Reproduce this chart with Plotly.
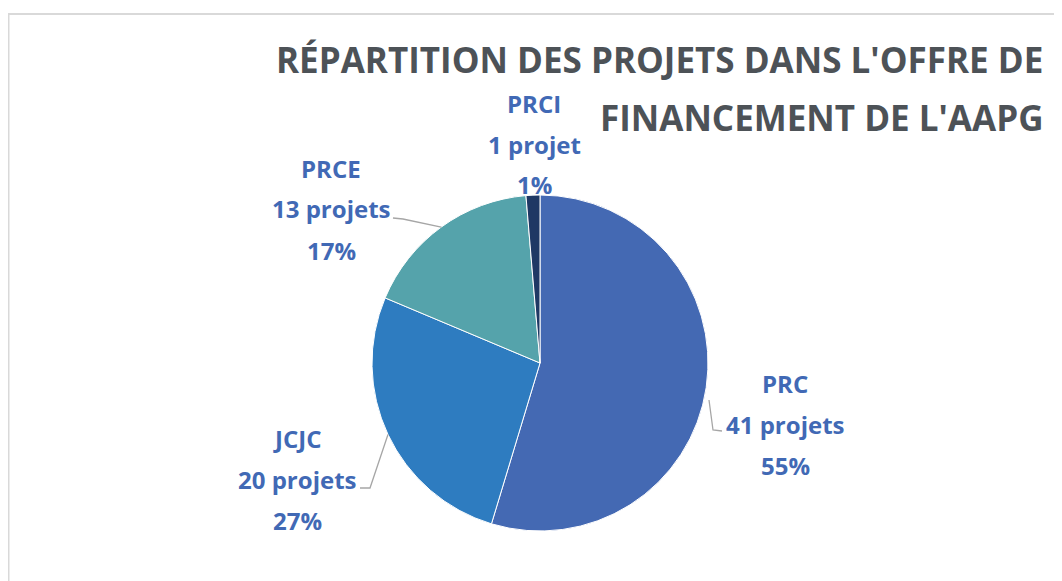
import plotly.graph_objects as go
import math

categories = ["PRC", "JCJC", "PRCE", "PRCI"]
values = [41, 20, 13, 1]
unit_labels = ["projets", "projets", "projets", "projet"]
colors = ["#4469B3", "#2E7CC0", "#55A3AB", "#1F3864"]
title_lines = ["RÉPARTITION DES PROJETS DANS L'OFFRE DE", "FINANCEMENT DE L'AAPG"]

W, H = 1062, 581
OFF = 8  # page body margin offset
cx, cy, r = 540, 363, 168

def px(x):
    return (x - OFF) / W

def py(y):
    return 1 - (y - OFF) / H

fig = go.Figure(go.Pie(
    labels=categories,
    values=values,
    sort=False,
    direction="clockwise",
    rotation=0,
    marker=dict(colors=colors, line=dict(color="white", width=1)),
    textinfo="none",
    hoverinfo="label+value+percent",
    domain=dict(x=[px(cx - r), px(cx + r)], y=[py(cy + r), py(cy - r)]),
    showlegend=False,
))

label_color = "#4169B5"
lab_font = dict(family="Open Sans", size=24, color=label_color)
label_pos = {"PRC": (785, 383), "JCJC": (297, 438), "PRCE": (331, 168), "PRCI": (534, 103)}
line_gap = 41
total = sum(values)
annotations = []
for cat, v, u in zip(categories, values, unit_labels):
    x0, y0 = label_pos[cat]
    pct = round(100 * v / total)
    for i, t in enumerate([cat, f"{v} {u}", f"{pct}%"]):
        annotations.append(dict(
            x=px(x0), y=py(y0 + i * line_gap), xref="paper", yref="paper",
            text=f"<b>{t}</b>", showarrow=False, font=lab_font,
            xanchor="center", yanchor="middle"))

title_font = dict(family="Open Sans", size=35, color="#4D5257")
for t, y in zip(title_lines, [60, 117]):
    annotations.append(dict(
        x=px(1045), y=py(y), xref="paper", yref="paper",
        text=f"<b>{t}</b>", showarrow=False, font=title_font,
        xanchor="right", yanchor="middle"))

def edge_point(cat):
    idx = categories.index(cat)
    start = sum(values[:idx])
    mid = (start + values[idx] / 2) / total * 2 * math.pi
    return cx + r * math.sin(mid), cy - r * math.cos(mid)

shapes = []
leader = {
    "PRCE": [(393, 218), (403, 219)],
    "JCJC": [(360, 488), (370, 488)],
    "PRC": [(722, 431), (713, 430)],
}
line_style = dict(color="#A6A6A6", width=1.3)
for cat, pts in leader.items():
    ex, ey = edge_point(cat)
    if cat == "PRC":
        ex, ey = 709, 400
    path = f"M {px(pts[0][0])},{py(pts[0][1])} L {px(pts[1][0])},{py(pts[1][1])} L {px(ex)},{py(ey)}"
    shapes.append(dict(type="path", path=path, xref="paper", yref="paper", line=line_style))

frame = dict(color="#D9D9D9", width=2)
shapes.append(dict(type="line", xref="paper", yref="paper", x0=px(8), x1=1.0, y0=py(14), y1=py(14), line=frame))
shapes.append(dict(type="line", xref="paper", yref="paper", x0=px(8.5), x1=px(8.5), y0=py(14), y1=0, line=frame))

fig.update_layout(
    width=W, height=H,
    margin=dict(l=0, r=0, t=0, b=0),
    paper_bgcolor="white", plot_bgcolor="white",
    annotations=annotations, shapes=shapes,
)

fig.write_html("out.html")
